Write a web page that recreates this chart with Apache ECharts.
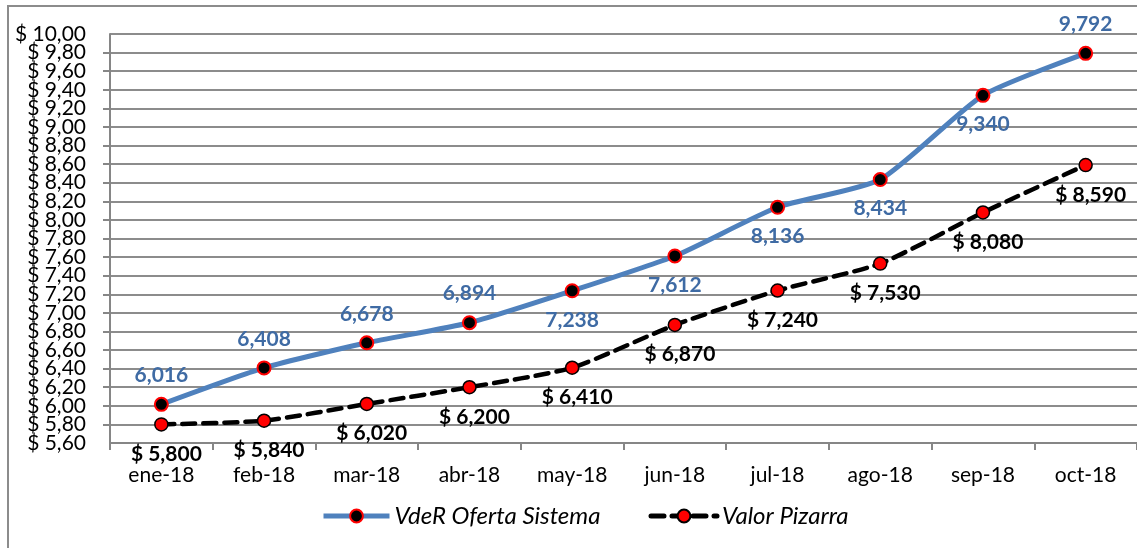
<!DOCTYPE html>
<html>
<head>
<meta charset="utf-8">
<script src="https://cdn.jsdelivr.net/npm/echarts@6/dist/echarts.min.js"></script>
<style>
html,body{margin:0;padding:0;background:#fff;}
#c{width:1137px;height:548px;}
</style>
</head>
<body>
<div id="c"></div>
<script>
const categories = ['ene-18','feb-18','mar-18','abr-18','may-18','jun-18','jul-18','ago-18','sep-18','oct-18'];
const vderOferta = [6.016, 6.408, 6.678, 6.894, 7.238, 7.612, 8.136, 8.434, 9.340, 9.792];
const valorPizarra = [5.800, 5.840, 6.020, 6.200, 6.410, 6.870, 7.240, 7.530, 8.080, 8.590];
const seriesNames = ['VdeR Oferta Sistema', 'Valor Pizarra'];
const yMin = 5.6, yMax = 10.0, yStep = 0.2;

const FONT = 'Lato, "Open Sans", sans-serif';
const BLUE = '#4F81BD';
const BLUE_TEXT = '#3F6BA4';
const blueAbove = new Set([0,1,2,3,9]);

const fmt3 = v => v.toFixed(3).replace('.', ',');
const fmtY = v => '$ ' + v.toFixed(2).replace('.', ',');
const isEnd = v => Math.abs(v - yMin) < 1e-6 || Math.abs(v - yMax) < 1e-6;

const yLabelBase = { fontFamily: FONT, fontSize: 21, color: '#000', margin: 24, hideOverlap: false, lineHeight: 12 };

const chart = echarts.init(document.getElementById('c'));
chart.setOption({
  animation: false,
  backgroundColor: '#fff',
  graphic: [{
    type: 'rect', silent: true,
    shape: { x: 8, y: 6, width: 1200, height: 700 },
    style: { fill: 'none', stroke: '#8c8c8c', lineWidth: 2 }
  }],
  grid: { left: 110, right: -7, top: 34, bottom: 105, containLabel: false },
  legend: {
    data: seriesNames,
    left: 316,
    top: 499,
    itemWidth: 66,
    itemHeight: 16,
    itemGap: 48,
    lineStyle: { width: 5 },
    textStyle: { fontFamily: FONT, fontStyle: 'italic', fontSize: 24, color: '#000' }
  },
  xAxis: {
    type: 'category',
    data: categories,
    boundaryGap: true,
    axisLine: { lineStyle: { color: '#868686', width: 2 } },
    axisTick: { show: true, length: 7, inside: false, lineStyle: { color: '#868686', width: 2 } },
    axisLabel: { fontFamily: FONT, fontSize: 21, color: '#000', margin: 22 }
  },
  yAxis: [
    {
      type: 'value',
      min: yMin, max: yMax, interval: yStep,
      axisLine: { show: true, lineStyle: { color: '#868686', width: 2 } },
      axisTick: { show: true, length: 7, lineStyle: { color: '#868686', width: 2 } },
      splitLine: { show: true, lineStyle: { color: '#8c8c8c', width: 2 } },
      axisLabel: Object.assign({}, yLabelBase, {
        showMinLabel: false, showMaxLabel: false,
        formatter: v => isEnd(v) ? '' : fmtY(v)
      })
    },
    {
      type: 'value', position: 'left',
      min: yMin, max: yMax, interval: yStep,
      axisLine: { show: false }, axisTick: { show: false }, splitLine: { show: false },
      axisLabel: Object.assign({}, yLabelBase, {
        showMinLabel: true, showMaxLabel: true,
        formatter: v => isEnd(v) ? fmtY(v) : ''
      })
    }
  ],
  series: [
    {
      name: seriesNames[0],
      type: 'line',
      smooth: 0.2,
      z: 3,
      data: vderOferta.map((v, i) => ({
        value: v,
        label: { position: blueAbove.has(i) ? 'top' : 'bottom' }
      })),
      lineStyle: { color: BLUE, width: 5 },
      itemStyle: { color: '#000', borderColor: '#ff0000', borderWidth: 2 },
      symbol: 'circle',
      symbolSize: 13,
      label: {
        show: true, distance: 11,
        fontFamily: FONT, fontSize: 21, fontWeight: 'bold', color: BLUE_TEXT,
        formatter: p => fmt3(p.value)
      }
    },
    {
      name: seriesNames[1],
      type: 'line',
      smooth: 0.2,
      z: 2,
      data: valorPizarra,
      lineStyle: { color: '#000', width: 4.5, type: [13, 8], cap: 'round' },
      itemStyle: { color: '#ff0000', borderColor: '#000', borderWidth: 1.5 },
      symbol: 'circle',
      symbolSize: 13,
      label: {
        show: true, position: 'bottom', distance: 12, offset: [5, 0],
        fontFamily: FONT, fontSize: 21, fontWeight: 'bold', color: '#000',
        formatter: p => '$ ' + fmt3(p.value)
      }
    }
  ]
});
</script>
</body>
</html>
